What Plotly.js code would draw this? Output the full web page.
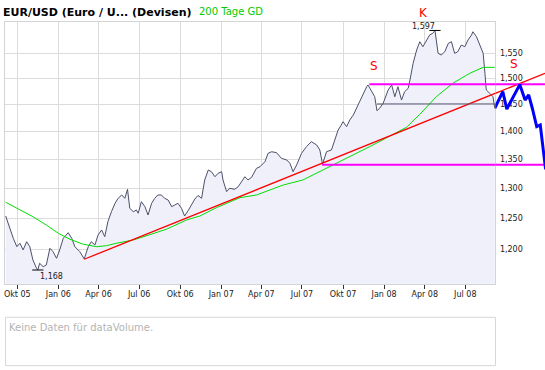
<!DOCTYPE html>
<html><head><meta charset="utf-8">
<script src="https://cdn.plot.ly/plotly-3.0.1.min.js"></script>
<style>html,body{margin:0;padding:0;background:#fff}#chart{width:545px;height:370px}</style>
</head><body><div id="chart"></div>
<script>
// EUR/USD daily close
const priceDates = ['2005-09-05','2005-09-15','2005-09-22','2005-09-30','2005-10-07','2005-10-14','2005-10-22','2005-10-29','2005-11-05','2005-11-13','2005-11-16','2005-11-20','2005-11-28','2005-12-05','2005-12-13','2005-12-20','2005-12-28','2006-01-04','2006-01-12','2006-01-23','2006-01-31','2006-02-07','2006-02-18','2006-02-28','2006-03-09','2006-03-16','2006-03-24','2006-03-31','2006-04-08','2006-04-15','2006-04-22','2006-04-30','2006-05-08','2006-05-15','2006-05-23','2006-05-30','2006-06-05','2006-06-10','2006-06-18','2006-06-25','2006-06-29','2006-07-06','2006-07-14','2006-07-21','2006-07-29','2006-08-05','2006-08-12','2006-08-20','2006-08-27','2006-09-04','2006-09-12','2006-09-19','2006-09-26','2006-10-04','2006-10-11','2006-10-19','2006-10-26','2006-11-03','2006-11-10','2006-11-18','2006-11-25','2006-12-03','2006-12-10','2006-12-18','2006-12-25','2007-01-02','2007-01-05','2007-01-13','2007-01-20','2007-01-31','2007-02-08','2007-02-15','2007-02-23','2007-03-02','2007-03-10','2007-03-21','2007-03-29','2007-04-09','2007-04-16','2007-04-24','2007-05-05','2007-05-16','2007-05-28','2007-06-04','2007-06-11','2007-06-19','2007-06-30','2007-07-11','2007-07-22','2007-08-03','2007-08-10','2007-08-16','2007-08-25','2007-09-05','2007-09-13','2007-09-20','2007-09-26','2007-10-01','2007-10-09','2007-10-16','2007-10-24','2007-10-31','2007-11-08','2007-11-15','2007-11-23','2007-11-26','2007-12-04','2007-12-11','2007-12-16','2007-12-22','2007-12-30','2008-01-10','2008-01-18','2008-01-25','2008-02-01','2008-02-09','2008-02-16','2008-02-24','2008-02-28','2008-03-06','2008-03-14','2008-03-21','2008-03-28','2008-04-05','2008-04-12','2008-04-19','2008-04-24','2008-05-01','2008-05-08','2008-05-16','2008-05-24','2008-05-31','2008-06-07','2008-06-14','2008-06-22','2008-06-30','2008-07-07','2008-07-15','2008-07-18','2008-07-26','2008-08-02','2008-08-10','2008-08-14','2008-08-17','2008-08-25','2008-09-01','2008-09-05'];
const priceValues = [1.2533,1.2307,1.2174,1.2041,1.2095,1.1990,1.2120,1.2041,1.1834,1.1707,1.1680,1.1783,1.1731,1.1757,1.2016,1.1963,1.1860,1.1990,1.2174,1.2263,1.2174,1.2041,1.1963,1.1850,1.2041,1.2120,1.2068,1.2227,1.2307,1.2200,1.2441,1.2604,1.2743,1.2827,1.2882,1.2827,1.2978,1.2660,1.2604,1.2632,1.2578,1.2770,1.2687,1.2550,1.2743,1.2827,1.2882,1.2882,1.2827,1.2798,1.2687,1.2715,1.2743,1.2660,1.2533,1.2624,1.2715,1.2815,1.2874,1.2827,1.3137,1.3310,1.3280,1.3193,1.3252,1.3280,1.3137,1.2938,1.2995,1.2978,1.3022,1.3108,1.3193,1.3137,1.3183,1.3339,1.3367,1.3455,1.3603,1.3631,1.3614,1.3514,1.3484,1.3426,1.3280,1.3397,1.3603,1.3721,1.3811,1.3751,1.3662,1.3410,1.3631,1.3662,1.3841,1.4023,1.4100,1.4176,1.4084,1.4207,1.4300,1.4426,1.4583,1.4679,1.4839,1.4872,1.4742,1.4646,1.4381,1.4426,1.4521,1.4775,1.4872,1.4646,1.4839,1.4583,1.4742,1.4808,1.4969,1.5299,1.5567,1.5737,1.5634,1.5772,1.5875,1.5910,1.5970,1.5500,1.5466,1.5532,1.5704,1.5737,1.5500,1.5532,1.5669,1.5634,1.5772,1.5875,1.5943,1.5840,1.5669,1.5500,1.5101,1.4775,1.4711,1.4646,1.4426];

// 200-day moving average
const maDates = ['2005-09-05','2005-10-07','2005-11-05','2005-12-05','2006-01-01','2006-01-27','2006-02-26','2006-03-28','2006-04-19','2006-05-11','2006-06-18','2006-07-23','2006-08-31','2006-10-15','2006-11-14','2006-12-22','2007-02-12','2007-03-21','2007-05-20','2007-07-03','2007-08-17','2007-09-24','2007-12-07','2008-02-20','2008-03-21','2008-04-27','2008-06-03','2008-07-11','2008-08-10','2008-09-05'];
const maValues = [1.2760,1.2632,1.2522,1.2387,1.2254,1.2158,1.2079,1.2041,1.2057,1.2095,1.2147,1.2227,1.2318,1.2468,1.2533,1.2673,1.2837,1.2882,1.3051,1.3137,1.3310,1.3455,1.3751,1.4072,1.4313,1.4646,1.4905,1.5101,1.5219,1.5219];

// drawn trend line, support / resistance lines, projection
const trendDates = ['2006-02-28','2008-12-26 14:00'];
const trendValues = [1.1845,1.5101];
const upperDates = ['2007-11-29','2009-01-10'];
const upperValues = [1.4886,1.4886];
const lowerDates = ['2007-08-15','2009-01-10'];
const lowerValues = [1.3403,1.3403];
const levelDates = ['2007-12-16','2008-09-06'];
const levelValues = [1.4508,1.4508];
const forecastDates = ['2008-09-05','2008-09-23','2008-10-02','2008-10-31','2008-11-12','2008-11-20','2008-11-28','2008-12-08','2008-12-16','2008-12-21','2008-12-25','2008-12-28'];
const forecastValues = [1.4426,1.4742,1.4412,1.4880,1.4583,1.4679,1.4432,1.4084,1.4115,1.3751,1.3484,1.3320];

const extremeDates = ['2005-11-16','2008-04-24'];
const extremeValues = [1.168,1.597];
const extremeLabels = ['1,168','1,597'];

const tickDates = ['2005-10-01','2006-01-01','2006-04-01','2006-07-01','2006-10-01','2007-01-01','2007-04-01','2007-07-01','2007-10-01','2008-01-01','2008-04-01','2008-07-01'];
const tickLabels = ['Okt 05','Jan 06','Apr 06','Jul 06','Okt 06','Jan 07','Apr 07','Jul 07','Okt 07','Jan 08','Apr 08','Jul 08'];
const yTicks = [1.2,1.25,1.3,1.35,1.4,1.45,1.5,1.55];

const FONT = 'DejaVu Sans, Verdana, sans-serif';
const xStart = '2005-09-03 10:34';
const xEnd = '2008-12-26 14:24';
const frameEnd = '2008-09-06 05:00';
const mainBottom = 0.2375;
const splitX = 490.3 / 540;
const yRange = [Math.log10(1.1464), Math.log10(1.6147)];
const GRAY = '#4c5068';

function line(x, y, color, width, axes) {
  return {x: x, y: y, type: 'scatter', mode: 'lines', line: {color: color, width: width},
          xaxis: axes[0], yaxis: axes[1], hoverinfo: 'skip'};
}
const A = ['x', 'y'], B = ['x2', 'y2'];

const price = line(priceDates, priceValues, GRAY, 1, A);
price.fill = 'tozeroy'; price.fillcolor = '#f0f0fb';

const traces = [
  price,
  line(maDates, maValues, '#00dd00', 1, A),
  line(trendDates, trendValues, '#ff0000', 1.3, A),
  line(levelDates, levelValues, GRAY, 1, A),
  line(upperDates, upperValues, '#ff00ff', 2, A),
  line(lowerDates, lowerValues, '#ff00ff', 2, A),
  {x: extremeDates, y: extremeValues, type: 'scatter', mode: 'markers', xaxis: 'x', yaxis: 'y',
   marker: {symbol: 'line-ew', size: 8, color: '#000', line: {color: '#000', width: 1}}},
  // right-hand projection area (continuation of the same lines)
  line(trendDates, trendValues, '#ff0000', 1.3, B),
  line(upperDates, upperValues, '#ff00ff', 2, B),
  line(lowerDates, lowerValues, '#ff00ff', 2, B),
  line(forecastDates, forecastValues, '#0000ff', 3, B)
];

const layout = {
  width: 545, height: 370, autosize: false,
  margin: {l: 5, r: 0, t: 22, b: 4, pad: 0},
  paper_bgcolor: '#ffffff', plot_bgcolor: 'rgba(0,0,0,0)',
  showlegend: false,
  separators: ',.',
  font: {family: FONT, size: 8, color: '#222'},
  title: {text: '<b>EUR/USD (Euro / U... (Devisen)</b>', font: {family: FONT, size: 11, color: '#000'},
          xref: 'container', x: 3/545, xanchor: 'left', yref: 'container', y: 1 - 12/370, yanchor: 'middle'},
  xaxis: {type: 'date', range: [xStart, frameEnd], domain: [0, splitX], anchor: 'y',
          tickmode: 'array', tickvals: tickDates, ticktext: tickLabels,
          showgrid: true, gridcolor: '#dcdcdc', gridwidth: 1, zeroline: false,
          showline: true, mirror: true, linecolor: '#d4d4d4', linewidth: 1,
          ticks: 'outside', ticklen: 4, tickwidth: 1, tickcolor: '#333', ticklabelstandoff: -2,
          tickfont: {family: FONT, size: 8, color: '#222'}, fixedrange: true},
  yaxis: {type: 'log', range: yRange, domain: [mainBottom, 1], anchor: 'x',
          side: 'right', ticklabelposition: 'outside', ticklabelstandoff: 2,
          tickmode: 'array', tickvals: yTicks, tickformat: '.3f',
          showgrid: true, gridcolor: '#dcdcdc', gridwidth: 1, zeroline: false,
          showline: true, mirror: true, linecolor: '#d4d4d4', linewidth: 1,
          ticks: '', tickfont: {family: FONT, size: 8, color: '#222'}, fixedrange: true},
  xaxis2: {type: 'date', range: [frameEnd, xEnd], domain: [splitX, 1], anchor: 'y2', visible: false, fixedrange: true},
  yaxis2: {type: 'log', range: yRange, domain: [mainBottom, 1], anchor: 'x2', visible: false, fixedrange: true},
  shapes: [
    {type: 'rect', layer: 'above', xref: 'paper', yref: 'paper', x0: 0.001, x1: (495.5-5)/540, y0: 0.001, y1: (366-317.3)/344,
     fillcolor: 'rgba(0,0,0,0)', line: {color: '#d8d8d8', width: 1}}
  ],
  annotations: [
    {xref: 'paper', yref: 'paper', x: (197-5)/540, y: (366-12)/344, xanchor: 'left', yanchor: 'middle',
     text: '200 Tage GD', showarrow: false, font: {family: FONT, size: 10, color: '#00cc00'}},
    {xref: 'x', yref: 'y', x: extremeDates[1], y: Math.log10(extremeValues[1]), xanchor: 'right', yanchor: 'middle',
     xshift: 2, yshift: 4, text: extremeLabels[1], showarrow: false, font: {family: FONT, size: 8, color: '#222'}},
    {xref: 'x', yref: 'y', x: extremeDates[0], y: Math.log10(extremeValues[0]), xanchor: 'left', yanchor: 'middle',
     xshift: 0, yshift: -6, text: extremeLabels[0], showarrow: false, font: {family: FONT, size: 8, color: '#222'}},
    {xref: 'x', yref: 'y', x: '2007-12-10', y: Math.log10(1.5245), xanchor: 'center', yanchor: 'middle',
     text: 'S', showarrow: false, font: {family: FONT, size: 12, color: '#ff0000'}},
    {xref: 'x2', yref: 'y2', x: '2008-10-17', y: Math.log10(1.5280), xanchor: 'center', yanchor: 'middle',
     text: 'S', showarrow: false, font: {family: FONT, size: 12, color: '#ff0000'}},
    {xref: 'x', yref: 'paper', x: '2008-03-30', y: (366-12.5)/344, xanchor: 'center', yanchor: 'middle',
     text: 'K', showarrow: false, font: {family: FONT, size: 12, color: '#ff0000'}},
    {xref: 'paper', yref: 'paper', x: (6.5-5)/540, y: (366-327.5)/344, xanchor: 'left', yanchor: 'middle',
     text: 'Keine Daten für dataVolume.', showarrow: false, font: {family: FONT, size: 10, color: '#b4b4b4'}}
  ]
};

Plotly.newPlot('chart', traces, layout, {staticPlot: true, displayModeBar: false});
</script>
</body></html>
